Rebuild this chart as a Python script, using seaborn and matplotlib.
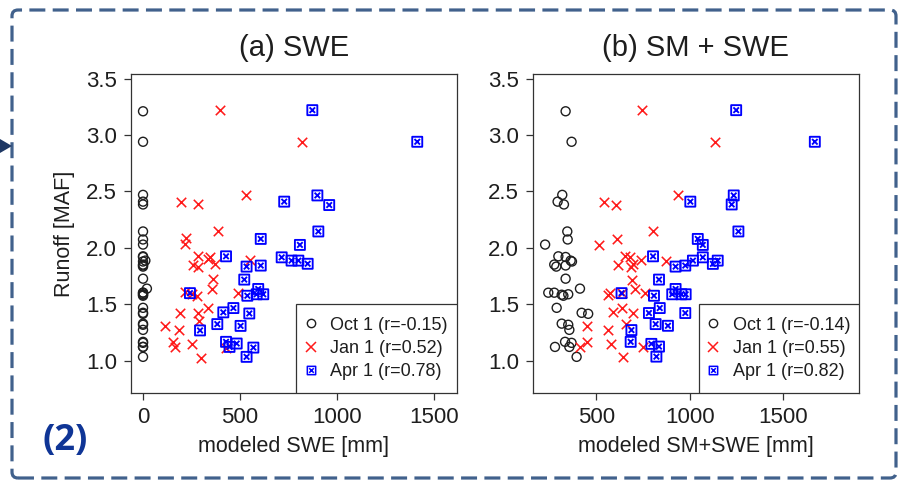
import numpy as np
import matplotlib
matplotlib.use("Agg")
import matplotlib.pyplot as plt
import matplotlib.patches as mpatches
from matplotlib.path import Path
from matplotlib.lines import Line2D
import seaborn as sns

# ── Veri ──────────────────────────────────────────────────────────────────────
# Oct 1 — y değerleri (gözlenen akış, MAF)
oct_y = [3.21, 2.94, 2.47, 2.41, 2.385, 2.146, 2.075, 2.03, 1.926, 1.92, 1.888,
         1.88, 1.853, 1.835, 1.845, 1.728, 1.64, 1.604, 1.604, 1.586, 1.577, 1.59,
         1.47, 1.426, 1.417, 1.33, 1.32, 1.275, 1.169, 1.16, 1.124, 1.124, 1.036]
oct_swe_x = [0, 0, 0, 0, 0, 0, 0, 0, 0, 0, 12, 0, 0, 0, 0, 0, 20, 0, 0, 0, 0, 0,
             0, 0, 0, 0, 0, 0, 0, 0, 0, 0, 0]
oct_smswe_x = [335, 367, 317, 292, 326, 344, 346, 225, 296, 335, 362, 369, 274, 285,
               335, 335, 412, 242, 274, 314, 323, 349, 287, 421, 456, 314, 349, 355,
               332, 367, 278, 355, 394]

# Jan 1 — SWE paneli
jan_swe_x = [397, 818, 531, 196, 285, 385, 222, 216, 285, 345, 337, 259, 285, 371,
             552, 359, 354, 216, 251, 277, 491, 337, 191, 285, 290, 113, 187, 156,
             165, 251, 297, 428]
jan_swe_y = [3.22, 2.94, 2.47, 2.41, 2.385, 2.146, 2.09, 2.036, 1.93, 1.92, 1.90,
             1.853, 1.835, 1.86, 1.894, 1.725, 1.637, 1.607, 1.59, 1.577, 1.60,
             1.468, 1.42, 1.42, 1.355, 1.311, 1.27, 1.169, 1.127, 1.148, 1.03, 1.11]

# Apr 1 — SWE paneli
apr_swe_x = [873, 1414, 899, 728, 960, 904, 607, 809, 428, 715, 766, 801, 849, 534,
             607, 522, 242, 594, 620, 538, 586, 466, 414, 548, 294, 383, 503, 428,
             446, 483, 569, 534]
apr_swe_y = [3.22, 2.94, 2.465, 2.41, 2.38, 2.146, 2.08, 2.027, 1.926, 1.917, 1.888,
             1.888, 1.86, 1.835, 1.844, 1.72, 1.60, 1.637, 1.59, 1.577, 1.59, 1.468,
             1.43, 1.42, 1.27, 1.326, 1.31, 1.169, 1.124, 1.154, 1.118, 1.036]

# Jan 1 — SM+SWE paneli
jan_smswe_x = [745, 1134, 937, 542, 604, 804, 611, 515, 652, 679, 742, 875, 617, 697,
               688, 693, 706, 572, 563, 635, 759, 635, 590, 697, 661, 451, 563, 451,
               412, 581, 750, 643]
jan_smswe_y = [3.22, 2.94, 2.465, 2.41, 2.38, 2.146, 2.08, 2.027, 1.932, 1.917, 1.894,
               1.888, 1.853, 1.859, 1.829, 1.72, 1.637, 1.60, 1.586, 1.60, 1.598,
               1.468, 1.429, 1.424, 1.326, 1.311, 1.273, 1.169, 1.127, 1.148, 1.127,
               1.038]

# Apr 1 — SM+SWE paneli
apr_smswe_x = [1250, 1672, 1237, 1226, 1004, 1262, 1044, 1071, 804, 925, 977, 1018,
               1071, 1125, 1151, 836, 635, 925, 907, 956, 979, 809, 782, 840, 884,
               818, 977, 688, 684, 795, 836, 822]
apr_smswe_y = [3.22, 2.94, 2.465, 2.385, 2.41, 2.146, 2.08, 2.027, 1.926, 1.835,
               1.844, 1.888, 1.917, 1.859, 1.888, 1.72, 1.60, 1.637, 1.59, 1.59, 1.59,
               1.577, 1.424, 1.468, 1.311, 1.326, 1.424, 1.273, 1.169, 1.151, 1.127,
               1.038]

panel_titles = ["(a) SWE", "(b) SM + SWE"]
x_labels = ["modeled SWE [mm]", "modeled SM+SWE [mm]"]
legend_labels = [["Oct 1 (r=-0.15)", "Jan 1 (r=0.52)", "Apr 1 (r=0.78)"],
                 ["Oct 1 (r=-0.14)", "Jan 1 (r=0.55)", "Apr 1 (r=0.82)"]]
x_ticks = [[0, 500, 1000, 1500], [500, 1000, 1500]]
y_ticks = [1.0, 1.5, 2.0, 2.5, 3.0, 3.5]

# ── Stil ──────────────────────────────────────────────────────────────────────
sns.set_theme(style="ticks")
plt.rcParams["font.family"] = ["Liberation Sans", "DejaVu Sans"]

W, H = 904, 484
fig = plt.figure(figsize=(W / 100, H / 100), dpi=100)
fig.patch.set_facecolor("white")

# kare içinde çarpı işareti (R pch=7)
k = 0.55
sqx = Path(
    [(-1, -1), (1, -1), (1, 1), (-1, 1), (-1, -1), (-k, -k), (k, k), (-k, k), (k, -k)],
    [Path.MOVETO, Path.LINETO, Path.LINETO, Path.LINETO, Path.CLOSEPOLY,
     Path.MOVETO, Path.LINETO, Path.MOVETO, Path.LINETO],
)

RED = "#ff1a1a"
BLUE = "#0000ff"
INK = "#1e1e1e"

panels = [
    (oct_swe_x, oct_y, jan_swe_x, jan_swe_y, apr_swe_x, apr_swe_y, (-62, 1619)),
    (oct_smswe_x, oct_y, jan_smswe_x, jan_smswe_y, apr_smswe_x, apr_smswe_y, (160, 1909)),
]
ax_left_px = [131, 533]
leg_left_px = [296, 699]

for i, (ox, oy, jx, jy, ax_, ay, xlim) in enumerate(panels):
    ax = fig.add_axes([ax_left_px[i] / W, 1 - 393 / H, 326 / W, 319 / H])
    sns.scatterplot(x=ox, y=oy, ax=ax, marker="o", s=42, facecolor="none",
                    edgecolor=INK, linewidth=1.0, legend=False, zorder=3)
    sns.scatterplot(x=jx, y=jy, ax=ax, marker="x", s=46, color=RED,
                    linewidth=1.15, legend=False, zorder=3)
    sns.scatterplot(x=ax_, y=ay, ax=ax, marker=sqx, s=52, facecolor="none",
                    edgecolor=BLUE, linewidth=1.35, legend=False, zorder=3)

    ax.set_xlim(*xlim)
    ax.set_ylim(0.716, 3.54)
    ax.set_xticks(x_ticks[i])
    ax.set_yticks(y_ticks)
    ax.set_yticklabels([f"{v:.1f}" for v in y_ticks])
    for sp in ax.spines.values():
        sp.set_visible(True)
        sp.set_color("#333333")
        sp.set_linewidth(0.9)
    ax.tick_params(direction="out", length=5, width=0.9, color="#333333",
                   pad=5, labelsize=16, labelcolor=INK)
    ax.set_title(panel_titles[i], fontsize=21, color=INK, pad=13)
    ax.set_xlabel(x_labels[i], fontsize=15.5, color=INK, labelpad=6)
    if i == 0:
        ax.set_ylabel("Runoff [MAF]", fontsize=15.5, color=INK, labelpad=8)

    # lejant kutusu (R tarzı, sağ alt köşeye yapışık)
    lx = (leg_left_px[i] - ax_left_px[i]) / 326
    lw_, lh_ = 1 - lx, 89 / 319
    box = mpatches.Rectangle((lx, 0), lw_, lh_, transform=ax.transAxes,
                             facecolor="white", edgecolor="#333333", linewidth=0.9,
                             zorder=4)
    ax.add_patch(box)
    handles = [
        Line2D([], [], ls="none", marker="o", mfc="none", mec=INK, ms=6, mew=1.0),
        Line2D([], [], ls="none", marker="x", color=RED, ms=6.5, mew=1.1),
        Line2D([], [], ls="none", marker=sqx, mfc="none", mec=BLUE, ms=6, mew=1.1),
    ]
    leg = ax.legend(handles, legend_labels[i], loc="center",
                    bbox_to_anchor=(lx, 0, lw_, lh_), borderaxespad=0,
                    fontsize=13, frameon=False, handlelength=0.6,
                    handletextpad=0.8, labelspacing=0.36, borderpad=0.2)
    leg.set_zorder(5)
    for t in leg.get_texts():
        t.set_color(INK)

# ── Kesikli çerçeve, ok ve "(2)" etiketi ─────────────────────────────────────
tr = fig.dpi_scale_trans
border = mpatches.FancyBboxPatch((12 / 100, (H - 478) / 100), (896 - 12) / 100,
                                 (478 - 10) / 100,
                                 boxstyle="round,pad=0,rounding_size=0.06",
                                 transform=tr, fill=False, edgecolor="#41618c",
                                 linewidth=2.3, linestyle=(0, (5, 2.3)))
fig.patches.append(border)
tri = mpatches.Polygon([(0, (H - 139) / 100), (0.12, (H - 146) / 100),
                        (0, (H - 153) / 100)], closed=True, transform=tr,
                       facecolor="#1f3864", edgecolor="none")
fig.patches.append(tri)

fig.text(65 / W, 1 - 441 / H, "(2)", fontsize=26, fontweight="bold",
         color="#0f3596", ha="center", va="center", family=["Open Sans", "DejaVu Sans"])

plt.savefig("out.png", dpi=100)
plt.close()
